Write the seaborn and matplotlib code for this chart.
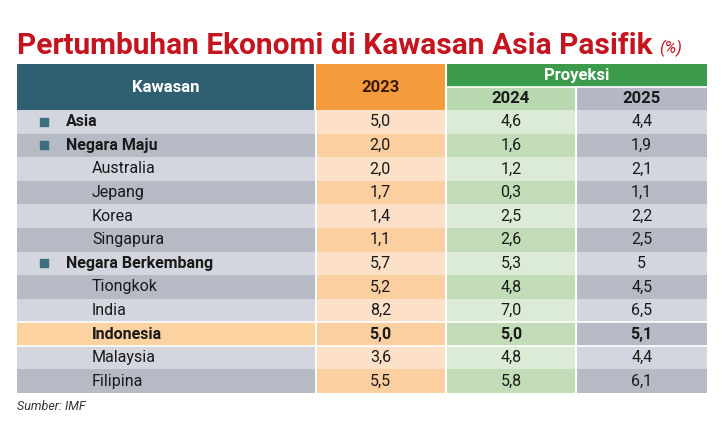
import numpy as np
import seaborn as sns
import matplotlib.pyplot as plt
from matplotlib.colors import ListedColormap
from matplotlib.patches import Rectangle

# --------------------------- DATA ---------------------------
regions = ['Asia', 'Negara Maju', 'Australia', 'Jepang', 'Korea', 'Singapura',
           'Negara Berkembang', 'Tiongkok', 'India', 'Indonesia', 'Malaysia', 'Filipina']
is_group = [True, True, False, False, False, False, True, False, False, False, False, False]
highlight = 'Indonesia'
years = ['2023', '2024', '2025']
v2023 = [5.0, 2.0, 2.0, 1.7, 1.4, 1.1, 5.7, 5.2, 8.2, 5.0, 3.6, 5.5]
v2024 = [4.6, 1.6, 1.2, 0.3, 2.5, 2.6, 5.3, 4.8, 7.0, 5.0, 4.8, 5.8]
v2025 = [4.4, 1.9, 2.1, 1.1, 2.2, 2.5, 5, 4.5, 6.5, 5.1, 4.4, 6.1]

title = 'Pertumbuhan Ekonomi di Kawasan Asia Pasifik'
unit = '(%)'
source = 'Sumber: IMF'

# --------------------------- SETTINGS ---------------------------
sns.set_theme(style='white')
plt.rcParams['font.family'] = ['Roboto', 'DejaVu Sans']

W, H = 722, 421
red = '#c3141f'
teal = '#2f5f71'
marker_col = '#3d6f80'
txt = '#1a1a1a'

# light / dark pairs per column
gray_l, gray_d = '#d3d6de', '#b6bac5'
peach_l, peach_d = '#fde0c8', '#fbcf9f'
green_l, green_d = '#dcebd5', '#c1dcb6'
orange_hl = '#fbd2a0'

n = len(regions)
hl_idx = regions.index(highlight)


def fmt(v):
    return f"{v:.1f}".replace('.', ',') if isinstance(v, float) else str(v)


# pixel box -> figure fraction
def fbox(x0, y0, x1, y1):
    return [x0 / W, 1 - y1 / H, (x1 - x0) / W, (y1 - y0) / H]


fig = plt.figure(figsize=(W / 100, H / 100), dpi=100)

top, bot = 110, 393
x0, xs, x1 = 17, 315, 707

# --------------------------- NAME COLUMN ---------------------------
ax_n = fig.add_axes(fbox(x0, top, xs, bot))
name_codes = np.array([[2 if i == hl_idx else i % 2] for i in range(n)])
sns.heatmap(name_codes, cmap=ListedColormap([gray_l, gray_d, orange_hl]),
            vmin=-0.5, vmax=2.5, cbar=False, ax=ax_n, xticklabels=False, yticklabels=False)
for i, name in enumerate(regions):
    bold = is_group[i] or name == highlight
    if is_group[i]:
        ax_n.scatter(0.091, i + 0.5, marker='s', s=40, color=marker_col, zorder=3)
        xt = 0.164
    else:
        xt = 0.252
    ax_n.text(xt, i + 0.5, name, ha='left', va='center', fontsize=11.5,
              fontweight='bold' if bold else 'normal', color=txt)

# --------------------------- VALUE COLUMNS ---------------------------
ax_v = fig.add_axes(fbox(xs, top, x1, bot))
codes = np.array([[c * 2 + (i % 2) for c in range(3)] for i in range(n)])
sns.heatmap(codes, cmap=ListedColormap([peach_l, peach_d, green_l, green_d, gray_l, gray_d]),
            vmin=-0.5, vmax=5.5, cbar=False, ax=ax_v, xticklabels=False, yticklabels=False)
series = [v2023, v2024, v2025]
for c, col in enumerate(series):
    for i, v in enumerate(col):
        ax_v.text(c + 0.5, i + 0.5, fmt(v), ha='center', va='center', fontsize=11.5,
                  fontweight='bold' if i == hl_idx else 'normal', color=txt)
for c in range(1, 3):
    ax_v.axvline(c, color='white', lw=1.5)
for ax in (ax_n, ax_v):
    ax.axhline(hl_idx, color='white', lw=1.2)
    ax.axhline(hl_idx + 1, color='white', lw=1.2)
ax_v.axvline(0, color='white', lw=2)

# --------------------------- HEADER ---------------------------
ax_h = fig.add_axes(fbox(x0, 64, x1, top))
ax_h.set_xlim(x0, x1)
ax_h.set_ylim(top, 64)
ax_h.axis('off')
cw = (x1 - xs) / 3
ax_h.add_patch(Rectangle((x0, 64), xs - x0, top - 64, color=teal))
ax_h.add_patch(Rectangle((xs, 64), cw, top - 64, color='#f39b3d'))
ax_h.add_patch(Rectangle((xs + cw, 64), 2 * cw, 87 - 64, color='#3b9a4b'))
ax_h.add_patch(Rectangle((xs + cw, 87), cw, top - 87, color='#b8d8b0'))
ax_h.add_patch(Rectangle((xs + 2 * cw, 87), cw, top - 87, color='#b3b8c4'))
for xv in (xs, xs + cw):
    ax_h.plot([xv, xv], [64, top], color='white', lw=1.5)
ax_h.plot([xs + 2 * cw] * 2, [87, top], color='white', lw=1.5)
ax_h.plot([xs + cw, x1], [87, 87], color='white', lw=1.2)
ax_h.text((x0 + xs) / 2, 88, 'Kawasan', ha='center', va='center', fontsize=12,
          fontweight='bold', color='white')
ax_h.text(xs + cw / 2, 88, years[0], ha='center', va='center', fontsize=12,
          fontweight='bold', color='#3a1c05')
ax_h.text(xs + 2 * cw, 75.5, 'Proyeksi', ha='center', va='center', fontsize=12,
          fontweight='bold', color='white')
ax_h.text(xs + 1.5 * cw, 98.5, years[1], ha='center', va='center', fontsize=12,
          fontweight='bold', color=txt)
ax_h.text(xs + 2.5 * cw, 98.5, years[2], ha='center', va='center', fontsize=12,
          fontweight='bold', color=txt)

# --------------------------- TITLE / SOURCE ---------------------------
t = fig.text(x0 / W, 1 - 46 / H, title, ha='left', va='center', fontsize=21.5,
             fontweight='bold', color=red)
fig.canvas.draw()
bb = t.get_window_extent()
fig.text((bb.x1 + 7) / W, 1 - 48 / H, unit, ha='left', va='center', fontsize=12,
         style='italic', color=red)
fig.text(x0 / W, 1 - 406 / H, source, ha='left', va='center', fontsize=9,
         style='italic', color='#333333')

fig.savefig('out.png', dpi=100)
